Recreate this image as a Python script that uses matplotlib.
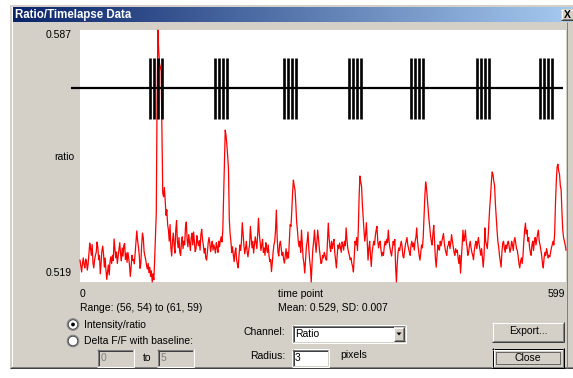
import numpy as np
import matplotlib
matplotlib.use("Agg")
import matplotlib.pyplot as plt
from matplotlib.patches import Rectangle, Circle, Polygon

# ---------------- data (ratio values x 1e-4, frames 0..599) ----------------
ratio_e4 = [
    5249, 5232, 5217, 5240, 5255, 5236, 5228, 5252, 5245, 5222, 5238, 5268, 5295, 5280, 5262, 5291, 5241, 5228, 5250, 5262,
    5270, 5298, 5284, 5250, 5262, 5212, 5240, 5275, 5287, 5266, 5230, 5255, 5221, 5197, 5218, 5236, 5209, 5245, 5258, 5240,
    5262, 5248, 5306, 5280, 5255, 5271, 5240, 5258, 5277, 5296, 5265, 5247, 5282, 5260, 5289, 5294, 5251, 5268, 5243, 5270,
    5255, 5236, 5205, 5230, 5262, 5248, 5251, 5239, 5268, 5296, 5328, 5302, 5285, 5263, 5227, 5241, 5290, 5322, 5309, 5272,
    5260, 5250, 5235, 5225, 5240, 5215, 5230, 5205, 5220, 5190, 5212, 5196, 5250, 5317, 5376, 5680, 5870, 5815, 5780, 5770,
    5760, 5590, 5430, 5420, 5445, 5410, 5370, 5385, 5345, 5330, 5300, 5345, 5282, 5260, 5300, 5322, 5290, 5268, 5330, 5356,
    5300, 5282, 5310, 5270, 5262, 5295, 5312, 5280, 5300, 5290, 5338, 5352, 5305, 5285, 5318, 5296, 5275, 5308, 5322, 5290,
    5325, 5300, 5272, 5280, 5315, 5298, 5288, 5302, 5276, 5318, 5332, 5305, 5290, 5268, 5281, 5255, 5249, 5270, 5296, 5310,
    5295, 5272, 5288, 5300, 5276, 5290, 5281, 5268, 5296, 5284, 5270, 5300, 5285, 5302, 5312, 5298, 5330, 5420, 5505, 5600,
    5585, 5560, 5530, 5495, 5360, 5320, 5300, 5270, 5285, 5262, 5245, 5270, 5282, 5250, 5238, 5228, 5262, 5290, 5275, 5300,
    5350, 5318, 5290, 5266, 5280, 5300, 5272, 5258, 5276, 5290, 5340, 5312, 5282, 5300, 5268, 5290, 5312, 5296, 5280, 5320,
    5362, 5320, 5298, 5275, 5290, 5305, 5270, 5282, 5262, 5296, 5280, 5270, 5290, 5260, 5245, 5250, 5218, 5242, 5270, 5290,
    5300, 5330, 5384, 5310, 5270, 5260, 5292, 5300, 5280, 5262, 5270, 5250, 5241, 5262, 5280, 5252, 5270, 5255, 5300, 5345,
    5340, 5380, 5430, 5465, 5450, 5438, 5400, 5352, 5330, 5300, 5285, 5300, 5270, 5330, 5290, 5255, 5240, 5214, 5250, 5285,
    5300, 5325, 5280, 5250, 5230, 5190, 5240, 5280, 5300, 5330, 5295, 5270, 5300, 5330, 5305, 5280, 5260, 5240, 5243, 5262,
    5255, 5270, 5262, 5250, 5249, 5300, 5349, 5310, 5285, 5272, 5300, 5280, 5295, 5305, 5270, 5250, 5228, 5262, 5290, 5280,
    5295, 5282, 5270, 5298, 5290, 5276, 5300, 5288, 5336, 5305, 5282, 5270, 5262, 5250, 5255, 5240, 5232, 5217, 5260, 5300,
    5290, 5310, 5275, 5330, 5420, 5476, 5460, 5449, 5400, 5363, 5330, 5300, 5320, 5350, 5300, 5249, 5280, 5300, 5262, 5232,
    5270, 5285, 5300, 5290, 5315, 5330, 5340, 5300, 5282, 5296, 5300, 5275, 5260, 5270, 5262, 5285, 5300, 5290, 5305, 5296,
    5330, 5300, 5282, 5270, 5260, 5280, 5300, 5290, 5305, 5230, 5190, 5240, 5270, 5282, 5275, 5290, 5300, 5285, 5260, 5255,
    5272, 5290, 5300, 5310, 5290, 5280, 5270, 5262, 5290, 5300, 5285, 5295, 5276, 5300, 5310, 5336, 5300, 5280, 5262, 5249,
    5270, 5290, 5282, 5310, 5365, 5420, 5460, 5445, 5419, 5390, 5360, 5340, 5315, 5300, 5290, 5320, 5343, 5300, 5255, 5230,
    5262, 5290, 5280, 5276, 5300, 5288, 5300, 5310, 5321, 5295, 5280, 5270, 5262, 5285, 5290, 5300, 5280, 5296, 5318, 5300,
    5285, 5270, 5262, 5280, 5270, 5276, 5255, 5240, 5262, 5214, 5250, 5290, 5330, 5300, 5310, 5330, 5300, 5285, 5262, 5270,
    5290, 5300, 5282, 5270, 5262, 5250, 5276, 5290, 5300, 5280, 5296, 5310, 5290, 5275, 5262, 5280, 5255, 5230, 5262, 5336,
    5300, 5290, 5280, 5310, 5350, 5392, 5420, 5460, 5487, 5480, 5462, 5450, 5400, 5363, 5330, 5300, 5285, 5262, 5245, 5230,
    5270, 5295, 5300, 5282, 5270, 5290, 5280, 5296, 5300, 5285, 5270, 5280, 5300, 5290, 5275, 5300, 5310, 5296, 5280, 5275,
    5260, 5240, 5228, 5245, 5255, 5240, 5262, 5300, 5330, 5349, 5320, 5330, 5300, 5310, 5285, 5270, 5262, 5290, 5300, 5275,
    5300, 5310, 5290, 5305, 5320, 5330, 5300, 5290, 5275, 5262, 5240, 5228, 5255, 5270, 5262, 5280, 5270, 5255, 5262, 5258,
    5270, 5282, 5290, 5300, 5290, 5320, 5400, 5460, 5500, 5508, 5490, 5481, 5450, 5438, 5380, 5330, 5310, 5300, 5290, 5276,
]
y_min, y_max = 0.519, 0.587
frame_last = 599
burst_onsets = [86, 166, 251, 331, 408, 489, 567]
pulse_offsets = [0, 5, 10, 15]
stim_level = 0.5713
stim_half = 0.0082
stim_line_span = [-11, 595]

title_text = "Ratio/Timelapse Data"
range_text = "Range: (56, 54) to (61, 59)"
stats_text = "Mean: 0.529, SD: 0.007"

ratio = np.array(ratio_e4) / 10000.0
time_points = np.arange(len(ratio))

# ---------------- figure ----------------
plt.rcParams['font.family'] = ['Liberation Sans', 'DejaVu Sans']
W, H = 573, 378
fig = plt.figure(figsize=(W / 100, H / 100), dpi=100, facecolor='white')
bg = fig.add_axes([0, 0, 1, 1])
bg.set_xlim(0, W)
bg.set_ylim(H, 0)
bg.axis('off')

GRAY = '#D4D0C8'
DARK = '#808080'
DDARK = '#404040'
PX = 0.72  # one pixel in points


def hline(x0, x1, y, c, z=3):
    bg.plot([x0, x1], [y, y], color=c, lw=PX, solid_capstyle='butt', zorder=z)


def vline(x, y0, y1, c, z=3):
    bg.plot([x, x], [y0, y1], color=c, lw=PX, solid_capstyle='butt', zorder=z)


def raised(x0, y0, x1, y1, z=2):
    bg.add_patch(Rectangle((x0, y0), x1 - x0, y1 - y0, facecolor=GRAY, edgecolor='none', zorder=z))
    hline(x0, x1, y0 + 0.5, 'white', z + 1)
    vline(x0 + 0.5, y0, y1, 'white', z + 1)
    hline(x0, x1, y1 - 0.5, DDARK, z + 1)
    vline(x1 - 0.5, y0, y1, DDARK, z + 1)
    hline(x0 + 1, x1 - 1, y1 - 1.5, DARK, z + 1)
    vline(x1 - 1.5, y0 + 1, y1 - 1, DARK, z + 1)


def sunken(x0, y0, x1, y1, face='white', z=2):
    bg.add_patch(Rectangle((x0, y0), x1 - x0, y1 - y0, facecolor=face, edgecolor='none', zorder=z))
    hline(x0, x1, y0 + 0.5, DARK, z + 1)
    vline(x0 + 0.5, y0, y1, DARK, z + 1)
    hline(x0 + 1, x1 - 1, y0 + 1.5, DDARK, z + 1)
    vline(x0 + 1.5, y0 + 1, y1 - 1, DDARK, z + 1)
    hline(x0, x1, y1 - 0.5, 'white', z + 1)
    vline(x1 - 0.5, y0, y1, 'white', z + 1)
    hline(x0 + 1, x1 - 1, y1 - 1.5, GRAY, z + 1)
    vline(x1 - 1.5, y0 + 1, y1 - 1, GRAY, z + 1)


FS = 7.5
def txt(x, y, s, ha='left', color='black', size=FS, weight='normal'):
    bg.text(x, y, s, ha=ha, va='center', color=color, fontsize=size, fontweight=weight, zorder=10)


# window body
bg.add_patch(Rectangle((10, 5), W + 5 - 10, 368.5 - 5, facecolor=GRAY, edgecolor='none', zorder=1))
vline(10.5, 5, 368.5, GRAY, 2)
vline(11.5, 6, 367.5, 'white', 2)
hline(10, W, 5.5, GRAY, 2)
hline(11, W, 6.5, 'white', 2)
hline(10, W, 368, DDARK, 2)
hline(11, W, 367, DARK, 2)

# title bar gradient
grad = np.linspace(0, 1, 256)[None, :]
c0 = np.array([10, 36, 106]) / 255.0
c1 = np.array([166, 202, 240]) / 255.0
img = c0[None, None, :] * (1 - grad[..., None]) + c1[None, None, :] * grad[..., None]
bg.imshow(img, extent=[12.5, W, 22, 7.5], aspect='auto', zorder=2, interpolation='bilinear')
bg.text(15, 14.8, title_text, ha='left', va='center', color='white', fontsize=8.3,
        fontweight='bold', zorder=10)
raised(561, 9, W + 3, 20.5, z=4)
bg.text(567.5, 15, 'X', ha='center', va='center', fontsize=7.5, fontweight='bold', zorder=10)
vline(566.5, 22, 368, DARK, 2)

# ---------------- plot area ----------------
px0, py0, px1, py1 = 80, 30, 566, 282
ax = fig.add_axes([px0 / W, 1 - py1 / H, (px1 - px0) / W, (py1 - py0) / H])
ax.set_facecolor('white')
ax.set_xlim(0, frame_last)
ax.set_ylim(y_min, y_max)
for s in ax.spines.values():
    s.set_visible(False)
ax.set_xticks([])
ax.set_yticks([])

ax.plot(time_points, ratio, color='#FF0000', lw=0.9, zorder=2, clip_on=False)

ax.plot(stim_line_span, [stim_level, stim_level], color='black', lw=1.6, zorder=3,
        clip_on=False, solid_capstyle='butt')
pulses = [b + o for b in burst_onsets for o in pulse_offsets]
ax.vlines(pulses, stim_level - stim_half, stim_level + stim_half, color='black',
          lw=1.9, zorder=3)

# ---------------- axis texts ----------------
txt(72, 35, f"{y_max:.3f}", ha='right')
txt(74.5, 157, "ratio", ha='right')
txt(72, 273, f"{y_min:.3f}", ha='right')
txt(80, 294, "0")
txt(278, 294, "time point")
txt(565, 294, str(frame_last), ha='right')
txt(80, 308, range_text)
txt(278, 308, stats_text)

# radio buttons
for cy in (324.5, 341):
    bg.add_patch(Circle((73, cy), 5.8, facecolor='white', edgecolor=DARK, lw=PX, zorder=4))
    bg.add_patch(Circle((73, cy), 4.8, facecolor='none', edgecolor=DDARK, lw=PX, zorder=4))
bg.add_patch(Circle((73, 324.5), 1.9, facecolor='black', edgecolor='none', zorder=5))
txt(84, 325, "Intensity/ratio")
txt(84, 341.5, "Delta F/F with baseline:")

sunken(97, 349, 134, 367, face=GRAY)
txt(100.5, 358, "0", color=DARK)
txt(143, 358, "to")
sunken(157, 349, 194, 367, face=GRAY)
txt(160.5, 358, "5", color=DARK)

# channel combo
txt(285, 332, "Channel:", ha='right')
sunken(292, 325, 406, 343)
txt(295.5, 334, "Ratio")
raised(393.5, 327, 404.5, 341, z=5)
bg.add_patch(Polygon([[396.5, 332.5], [401.5, 332.5], [399, 335.5]], closed=True,
                     facecolor='black', edgecolor='none', zorder=8))

# radius
txt(285, 356, "Radius:", ha='right')
sunken(292, 349, 329, 367)
txt(295, 358, "3")
txt(340, 355, "pixels")

# buttons
raised(492, 322, 564, 342)
txt(528, 331.5, "Export...", ha='center')
bg.add_patch(Rectangle((492, 348), 72, 20, facecolor=GRAY, edgecolor='none', zorder=2))
hline(492, 564, 348.5, 'black', 4)
vline(492.5, 348, 368, 'black', 4)
hline(492, 564, 367.5, 'black', 4)
vline(563.5, 348, 368, 'black', 4)
hline(493, 563, 349.5, 'white', 4)
vline(493.5, 349, 367, 'white', 4)
hline(493, 563, 366.5, DARK, 4)
vline(562.5, 349, 367, DARK, 4)
bg.add_patch(Rectangle((496, 352), 63.5, 12, facecolor='none', edgecolor='black',
                       lw=PX, linestyle=(0, (1, 1)), zorder=5))
txt(528, 358, "Close", ha='center')

fig.savefig("out.png", dpi=100, facecolor='white')
